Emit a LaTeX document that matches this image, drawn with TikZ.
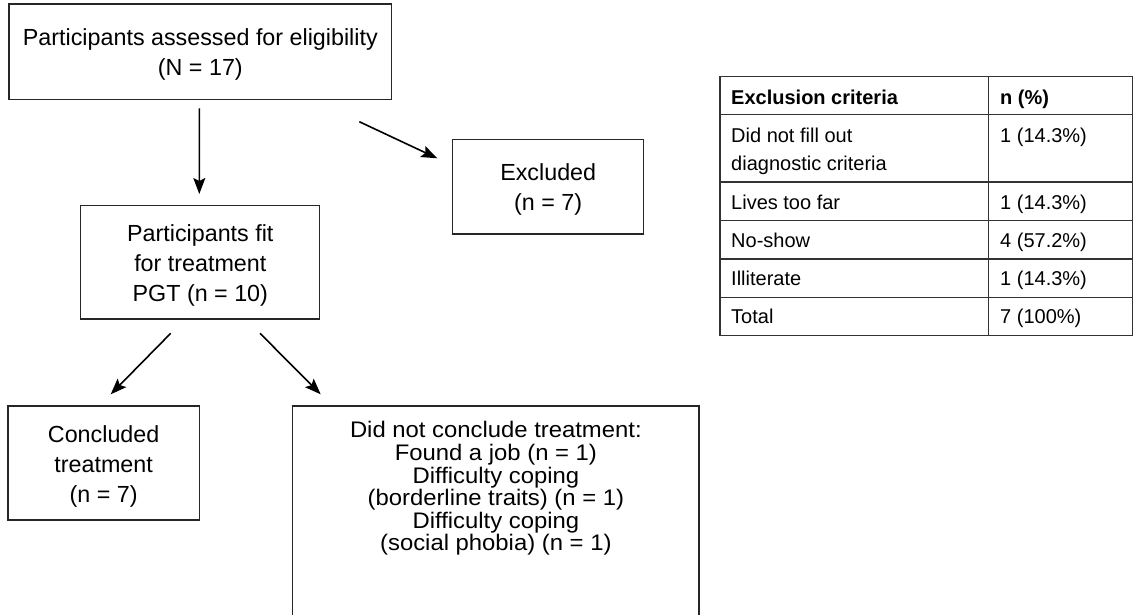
\documentclass[tikz,border=0pt]{standalone}
\usepackage{fontspec}
\setmainfont{Liberation Sans}
\newfontfamily\widefont[FakeStretch=1.06]{Liberation Sans}
\newcommand{\topgap}{\rule{0pt}{23.5pt}}
\usetikzlibrary{arrows.meta,calc}
\tikzset{
  box/.style={draw=black!85, line width=1.1pt, outer sep=0pt, inner sep=0pt, align=center,
    font={\fontsize{23.3}{30}\selectfont\lineskiplimit=-50pt}},
  boxline/.style={draw=black!85, line width=1.1pt},
  arr/.style={line width=1.6pt, -{Stealth[length=16pt,width=12pt,inset=3pt]}},
  tline/.style={draw=black!80, line width=1.2pt},
  tcell/.style={anchor=base west, inner sep=0pt, font={\fontsize{20}{28}\selectfont}},
}
\begin{document}
\begin{tikzpicture}[x=1pt,y=-1pt]
\useasboundingbox (0,0) rectangle (1134,614);
\clip (0,0) rectangle (1134,614);
% flow boxes
\node[box, minimum width=382.7pt, minimum height=95.3pt] (top) at (200.35,51.65)
  {\topgap Participants assessed for eligibility\\(N = 17)};
\node[box, minimum width=191pt, minimum height=94.7pt] (exc) at (548.2,186.65)
  {\topgap Excluded\\(n = 7)};
\node[box, minimum width=238.8pt, minimum height=113.3pt] (fit) at (200.3,262.35)
  {\topgap Participants fit\\for treatment\\PGT (n = 10)};
\node[box, minimum width=191.3pt, minimum height=114pt] (conc) at (103.65,463)
  {\topgap Concluded\\treatment\\(n = 7)};
\node[box, draw=none, anchor=north, minimum width=406.3pt, inner ysep=15.6pt,
  font={\widefont\fontsize{22.5}{22.6}\selectfont\lineskiplimit=-50pt}] (dnc) at (495.85,406)
  {Did not conclude treatment:\\Found a job (n = 1)\\Difficulty coping\\(borderline traits) (n = 1)\\Difficulty coping\\(social phobia) (n = 1)};
\draw[boxline] ($(dnc.north west)+(0,240)$) -- (dnc.north west) -- (dnc.north east) -- ++(0,240);
% arrows
\draw[arr] ($(top.south)+(-1,9)$) -- ($(fit.north)+(-1,-11.7)$);
\draw[arr] ($(top.south east)+(-32.4,22.4)$) -- ($(exc.north west)+(-15.4,19)$);
\draw[arr] ($(fit.south)+(-29.6,14.3)$) -- ($(conc.north)+(7.05,-11.7)$);
\draw[arr] ($(fit.south)+(59.7,14.3)$) -- ($(dnc.north west)+(28,-11.7)$);
% table
\draw[tline] (720,76.7) rectangle (1132.7,335.7);
\foreach \yy in {114.7,182,220.7,259,297.3} \draw[tline] (720,\yy) -- (1132.7,\yy);
\draw[tline] (988.7,76.7) -- (988.7,335.7);
\node[tcell] (h1) at (731,104.3) {\textbf{Exclusion criteria}};
\node[tcell] (h2) at (1000,104.3) {\textbf{n (\%)}};
\node[tcell] (r1a) at (731,142.7) {Did not fill out};
\node[tcell] (r1b) at (731,170.7) {diagnostic criteria};
\node[tcell] (r1n) at (1000,142.7) {1 (14.3\%)};
\node[tcell] (r2a) at (731,209) {Lives too far};
\node[tcell] (r2n) at (1000,209) {1 (14.3\%)};
\node[tcell] (r3a) at (731,247.3) {No-show};
\node[tcell] (r3n) at (1000,247.3) {4 (57.2\%)};
\node[tcell] (r4a) at (731,285.7) {Illiterate};
\node[tcell] (r4n) at (1000,285.7) {1 (14.3\%)};
\node[tcell] (r5a) at (731,323.3) {Total};
\node[tcell] (r5n) at (1000,323.3) {7 (100\%)};
\end{tikzpicture}
\end{document}
